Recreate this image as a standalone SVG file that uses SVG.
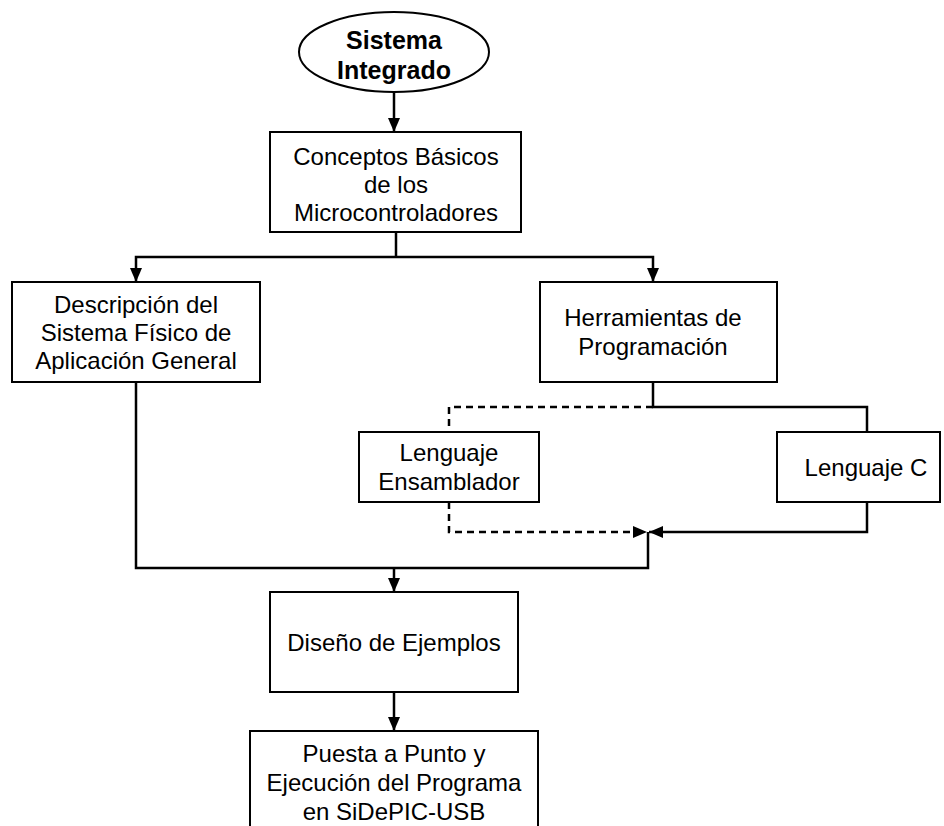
<svg xmlns="http://www.w3.org/2000/svg" width="944" height="826" viewBox="0 0 944 826">
<defs>
<marker id="arr" markerUnits="userSpaceOnUse" markerWidth="16" markerHeight="16" viewBox="0 0 16 16" refX="15" refY="8" orient="auto">
<path d="M1,2 L15,8 L1,14 Z" fill="#000"/>
</marker>
<style>
.box{fill:#fff;stroke:#000;stroke-width:2}
.t{font-family:"Liberation Sans",Arial,sans-serif;font-size:24px;fill:#000;text-anchor:middle}
.b{font-weight:bold;font-size:25px}
.c{fill:none;stroke:#000;stroke-width:2.5}
.d{stroke-dasharray:7,5}
</style>
</defs>
<rect width="944" height="826" fill="#fff"/>
<g id="connectors">
<path class="c" d="M394,92 V132" marker-end="url(#arr)"/>
<path class="c" d="M396,232 V257"/>
<path class="c" d="M396,257 H136 V282" marker-end="url(#arr)"/>
<path class="c" d="M396,257 H653 V282" marker-end="url(#arr)"/>
<path class="c" d="M653,382 V407 H867 V432"/>
<path class="c d" d="M653,407 H449 V432"/>
<path class="c d" d="M449,502 V532 H647" marker-end="url(#arr)"/>
<path class="c" d="M867,502 V532 H649" marker-end="url(#arr)"/>
<path class="c" d="M648,532 V568 H394"/>
<path class="c" d="M136,382 V568 H394"/>
<path class="c" d="M394,568 V592" marker-end="url(#arr)"/>
<path class="c" d="M394,692 V731" marker-end="url(#arr)"/>
</g>
<g id="sistema">
<ellipse class="box" cx="394" cy="52" rx="95" ry="40"/>
<text class="t b" x="394" y="49">Sistema</text>
<text class="t b" x="394" y="79">Integrado</text>
</g>
<g id="conceptos">
<rect class="box" x="270" y="132" width="251" height="100"/>
<text class="t" x="396" y="165">Conceptos Básicos</text>
<text class="t" x="396" y="193">de los</text>
<text class="t" x="396" y="221">Microcontroladores</text>
</g>
<g id="descripcion">
<rect class="box" x="12" y="282" width="248" height="100"/>
<text class="t" x="136" y="313">Descripción del</text>
<text class="t" x="136" y="341">Sistema Físico de</text>
<text class="t" x="136" y="369">Aplicación General</text>
</g>
<g id="herramientas">
<rect class="box" x="540" y="282" width="237" height="100"/>
<text class="t" x="653" y="326">Herramientas de</text>
<text class="t" x="653" y="355">Programación</text>
</g>
<g id="ensamblador">
<rect class="box" x="359" y="432" width="180" height="70"/>
<text class="t" x="449" y="461">Lenguaje</text>
<text class="t" x="449" y="490">Ensamblador</text>
</g>
<g id="lenguajec">
<rect class="box" x="777" y="432" width="163" height="70"/>
<text class="t" x="866" y="476">Lenguaje C</text>
</g>
<g id="diseno">
<rect class="box" x="270" y="592" width="248" height="100"/>
<text class="t" x="394" y="651">Diseño de Ejemplos</text>
</g>
<g id="puesta">
<rect class="box" x="250" y="731" width="288" height="100"/>
<text class="t" x="394" y="762">Puesta a Punto y</text>
<text class="t" x="394" y="791">Ejecución del Programa</text>
<text class="t" x="394" y="820">en SiDePIC-USB</text>
</g>
</svg>
